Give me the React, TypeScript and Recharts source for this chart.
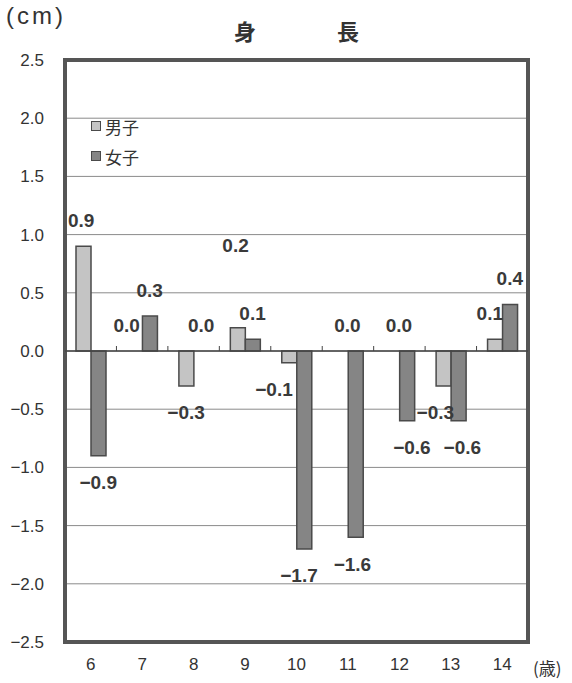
import { ComposedChart, Bar, Line, XAxis, YAxis, CartesianGrid, ReferenceLine, ReferenceArea } from "recharts";

const AGES = ["6", "7", "8", "9", "10", "11", "12", "13", "14"];
const BOYS = [0.9, 0.0, -0.3, 0.2, -0.1, 0.0, 0.0, -0.3, 0.1];
const GIRLS = [-0.9, 0.3, 0.0, 0.1, -1.7, -1.6, -0.6, -0.6, 0.4];
const Y_TICKS = [2.5, 2.0, 1.5, 1.0, 0.5, 0.0, -0.5, -1.0, -1.5, -2.0, -2.5];

// hand-placed label nudges in the original, [dx, dy] per age
const BOY_NUDGE = [[-2, 0], [-8, 0], [0, 0], [-2, -56], [-15, 0], [7, 0], [7, 0], [-8, 0], [-5, 0]];
const GIRL_NUDGE = [[0, 0], [0, 0], [0, 0], [0, 0], [-5, 0], [-3, 0], [5, 0], [4, 0], [0, 0]];

const data = AGES.map((age, i) => ({ age, boys: BOYS[i], girls: GIRLS[i] }));

const NUM_FONT = "'Liberation Sans', Arial, sans-serif";
const JP_FONT = "'Noto Sans CJK JP', sans-serif";
const BOY_FILL = "#c4c4c4";
const GIRL_FILL = "#858585";
const EDGE = "#4a4a4a";
const BAR = 15;

const fmt = (v: number) => (v < 0 ? "\u2212" + Math.abs(v).toFixed(1) : v.toFixed(1));

// labels ride on an invisible line so zero-height bars still get one
function makeLabel(nudge: number[][], shift: number) {
  return (props: any) => {
    const { x, y, value, index } = props;
    const [dx, dy] = nudge[index] || [0, 0];
    const cy = value >= 0 ? y - 26 : y + 27;
    return (
      <text
        key={index}
        x={x + shift + dx}
        y={cy + dy}
        textAnchor="middle"
        dominantBaseline="central"
        fontFamily={NUM_FONT}
        fontWeight="bold"
        fontSize={19}
        fill="#3a3a3a"
      >
        {fmt(value)}
      </text>
    );
  };
}

function ZeroLine(props: any) {
  const { x1, x2, y1 } = props;
  const step = (x2 - x1) / AGES.length;
  return (
    <g>
      <line x1={x1} x2={x2} y1={y1} y2={y1} stroke="#444" strokeWidth={1.5} />
      {AGES.slice(1).map((a, i) => (
        <line key={a} x1={x1 + step * (i + 1)} x2={x1 + step * (i + 1)} y1={y1} y2={y1 - 5} stroke="#444" strokeWidth={1} />
      ))}
    </g>
  );
}

function LegendBox() {
  const rows = [
    { name: "男子", fill: BOY_FILL },
    { name: "女子", fill: GIRL_FILL },
  ];
  return (
    <div style={{ position: "absolute", left: 91, top: 111 }}>
      {rows.map((r) => (
        <div key={r.name} style={{ display: "flex", alignItems: "center", height: 30, fontFamily: JP_FONT, fontSize: 17, color: "#333" }}>
          <span style={{ width: 8, height: 8, background: r.fill, border: `1px solid ${EDGE}`, marginRight: 4 }} />
          {r.name}
        </div>
      ))}
    </div>
  );
}

export default function App() {
  return (
    <div style={{ position: "absolute", left: 0, top: 0, width: 572, height: 683, background: "#fff" }}>
      <div style={{ position: "absolute", left: 6, top: 2, fontFamily: NUM_FONT, fontSize: 24, letterSpacing: 3, color: "#333" }}>(cm)</div>
      <div style={{ position: "absolute", left: 234, top: 14, fontFamily: JP_FONT, fontSize: 22, fontWeight: "bold", color: "#333" }}>身</div>
      <div style={{ position: "absolute", left: 337, top: 14, fontFamily: JP_FONT, fontSize: 22, fontWeight: "bold", color: "#333" }}>長</div>
      <div style={{ position: "absolute", left: 533, top: 655, fontFamily: JP_FONT, fontSize: 17, color: "#333" }}>(歳)</div>
      <ComposedChart width={572} height={683} data={data} margin={{ top: 60, right: 44, left: 0, bottom: 0 }} barGap={0} barSize={BAR}>
        <CartesianGrid horizontal vertical={false} stroke="#8a8a8a" strokeWidth={1} />
        <XAxis
          dataKey="age"
          height={41}
          axisLine={false}
          tickLine={false}
          tickSize={0}
          tickMargin={16}
          tick={{ fill: "#333", fontSize: 17, fontFamily: NUM_FONT }}
        />
        <YAxis
          width={65}
          domain={[-2.5, 2.5]}
          ticks={Y_TICKS}
          interval={0}
          axisLine={false}
          tickLine={false}
          tickSize={0}
          tickMargin={21}
          tickFormatter={fmt}
          tick={{ fill: "#333", fontSize: 17, fontFamily: NUM_FONT }}
        />
        <Bar dataKey="boys" name="男子" fill={BOY_FILL} stroke={EDGE} strokeWidth={1.5} isAnimationActive={false} />
        <Bar dataKey="girls" name="女子" fill={GIRL_FILL} stroke={EDGE} strokeWidth={1.5} isAnimationActive={false} />
        <ReferenceLine y={0} shape={<ZeroLine />} />
        <Line dataKey="boys" stroke="none" dot={false} activeDot={false} isAnimationActive={false} label={makeLabel(BOY_NUDGE, -BAR / 2)} />
        <Line dataKey="girls" stroke="none" dot={false} activeDot={false} isAnimationActive={false} label={makeLabel(GIRL_NUDGE, BAR / 2)} />
        <ReferenceArea y1={-2.5} y2={2.5} fill="none" stroke="#555" strokeWidth={4} ifOverflow="visible" />
      </ComposedChart>
      <LegendBox />
    </div>
  );
}
